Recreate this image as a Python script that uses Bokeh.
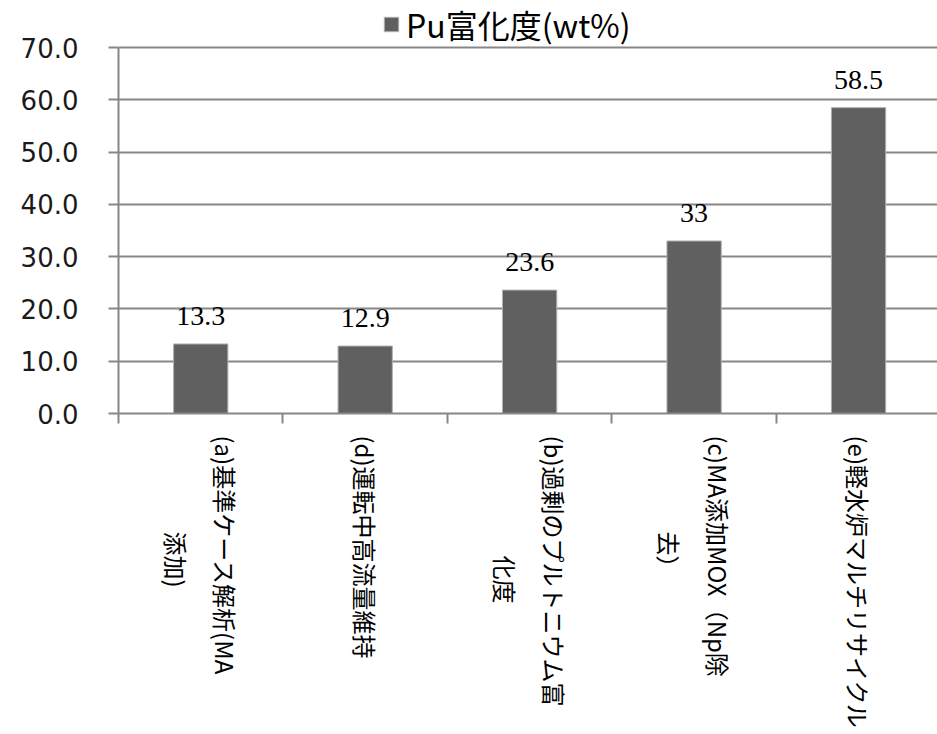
import math

from bokeh.embed import file_html
from bokeh.models import (ColumnDataSource, FixedTicker, LabelSet, Legend,
                          LegendItem, NumeralTickFormatter, Range1d)
from bokeh.plotting import figure
from bokeh.resources import INLINE

# Cases, in the order they are plotted (second lines padded with
# ideographic spaces so that they sit centred under the first line)
categories = [
    "(a)基準ケース解析(MA\n\u3000\u3000\u3000\u3000添加)",
    "(d)運転中高流量維持",
    "(b)過剰のプルトニウム富\n\u3000\u3000\u3000\u3000\u3000化度",
    "(c)MA添加MOX（Np除\n\u3000\u3000\u3000\u3000去）",
    "(e)軽水炉マルチリサイクル",
]
# Pu enrichment (wt%) for each case
pu_enrichment = [13.3, 12.9, 23.6, 33, 58.5]
series_name = "Pu富化度(wt%)"
y_ticks = [0, 10, 20, 30, 40, 50, 60, 70]

GRID = "#878787"
BAR = "#606060"

centers = [i + 0.5 for i in range(len(categories))]
boundaries = list(range(len(categories) + 1))

source = ColumnDataSource(dict(
    x=centers,
    top=pu_enrichment,
    label=[f"{v:g}" for v in pu_enrichment],
))

# the frame reaches above 70 so the legend can sit inside it;
# the y axis itself is bounded to 0..70
p = figure(
    width=937, height=734,
    output_backend="svg", toolbar_location=None,
    x_range=Range1d(0, 4.98), y_range=Range1d(0, 79),
    min_border_left=118, min_border_right=0,
    min_border_top=0, min_border_bottom=321,
)
p.outline_line_color = None
p.background_fill_color = "white"
p.border_fill_color = "white"

bars = p.vbar(x="x", top="top", width=0.33, source=source,
              fill_color=BAR, line_color="#b0b0b0", line_width=1)

# value labels above the bars
labels = LabelSet(x="x", y="top", text="label", source=source,
                  text_align="center", text_baseline="alphabetic", y_offset=19,
                  text_font="Liberation Serif", text_font_size="28px",
                  text_color="#000000")
p.add_layout(labels)

# y axis
p.yaxis.bounds = (0, 70)
p.yaxis.ticker = FixedTicker(ticks=y_ticks)
p.yaxis.formatter = NumeralTickFormatter(format="0.0")
p.yaxis.axis_line_color = GRID
p.yaxis.axis_line_width = 2
p.yaxis.major_tick_line_color = GRID
p.yaxis.major_tick_line_width = 2
p.yaxis.major_tick_out = 10
p.yaxis.major_tick_in = 0
p.yaxis.minor_tick_line_color = None
p.yaxis.major_label_standoff = 30
p.yaxis.major_label_text_font = "DejaVu Sans"
p.yaxis.major_label_text_font_size = "26px"
p.yaxis.major_label_text_color = "#1a1a1a"

# x axis: labels at category centres, tick marks at category boundaries
p.xaxis.ticker = FixedTicker(ticks=centers, minor_ticks=boundaries)
p.xaxis.major_label_overrides = {c: name for c, name in zip(centers, categories)}
p.xaxis.major_label_orientation = -math.pi / 2
p.xaxis.axis_line_color = GRID
p.xaxis.axis_line_width = 2
p.xaxis.major_tick_line_color = None
p.xaxis.major_tick_out = 0
p.xaxis.major_tick_in = 0
p.xaxis.minor_tick_line_color = GRID
p.xaxis.minor_tick_line_width = 2
p.xaxis.minor_tick_out = 10
p.xaxis.minor_tick_in = 0
p.xaxis.major_label_standoff = 12
p.xaxis.major_label_text_font = "Noto Sans CJK JP"
p.xaxis.major_label_text_font_size = "24px"
p.xaxis.major_label_text_color = "#000000"
p.xaxis.major_label_text_line_height = 1.4

p.xgrid.grid_line_color = None
p.ygrid.ticker = FixedTicker(ticks=y_ticks)
p.ygrid.grid_line_color = GRID
p.ygrid.grid_line_width = 2

legend = Legend(
    items=[LegendItem(label=series_name, renderers=[bars])],
    location=(264, 366), orientation="horizontal",
    label_text_font="Noto Sans CJK JP", label_text_font_size="32px",
    label_text_color="#000000", label_standoff=6,
    glyph_width=18, glyph_height=18,
    padding=0, margin=0, border_line_color=None,
    background_fill_alpha=0,
)
p.add_layout(legend)

open("out.html", "w").write(file_html(p, INLINE))
